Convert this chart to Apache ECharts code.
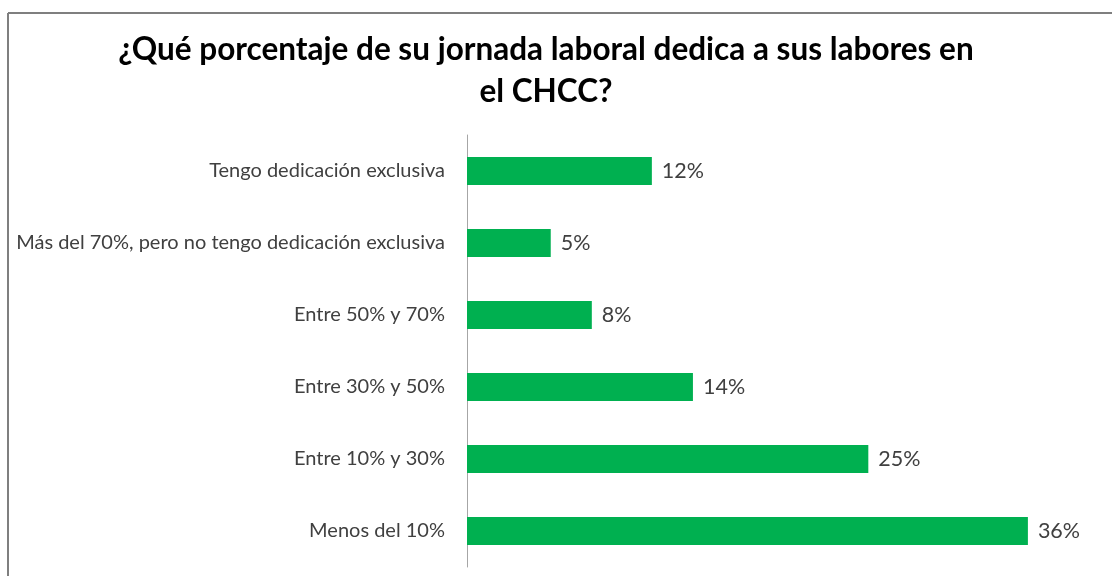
<!DOCTYPE html>
<html>
<head>
<meta charset="utf-8">
<script src="https://cdn.jsdelivr.net/npm/echarts@6/dist/echarts.min.js"></script>
<style>
html,body{margin:0;padding:0;background:#fff;}
#c{width:1112px;height:576px;}
</style>
</head>
<body>
<div id="c"></div>
<script>
const categories = [
  "Tengo dedicación exclusiva",
  "Más del 70%, pero no tengo dedicación exclusiva",
  "Entre 50% y 70%",
  "Entre 30% y 50%",
  "Entre 10% y 30%",
  "Menos del 10%"
];
const values = [11.7, 5.3, 7.9, 14.3, 25.4, 35.5];
const titleText = "¿Qué porcentaje de su jornada laboral dedica a sus labores en\nel CHCC?";

const chart = echarts.init(document.getElementById('c'));
chart.setOption({
  backgroundColor: '#fff',
  animation: false,
  title: {
    text: titleText,
    left: 541,
    textAlign: 'center',
    top: 24,
    textStyle: {
      fontFamily: 'Lato',
      fontWeight: 'bold',
      fontSize: 31.5,
      lineHeight: 42,
      color: '#000'
    }
  },
  graphic: [
    {type: 'line', shape: {x1: 8, y1: 13, x2: 1112, y2: 13}, style: {stroke: '#7f7f7f', lineWidth: 2}},
    {type: 'line', shape: {x1: 8, y1: 13, x2: 8, y2: 576}, style: {stroke: '#7f7f7f', lineWidth: 2}}
  ],
  grid: {left: 467, top: 135, width: 632, height: 432, containLabel: false},
  xAxis: {
    type: 'value', min: 0, max: 40,
    show: false
  },
  yAxis: {
    type: 'category',
    data: categories,
    inverse: true,
    axisLine: {show: true, lineStyle: {color: '#a6a6a6', width: 1}},
    axisTick: {show: false},
    axisLabel: {
      margin: 22,
      fontFamily: 'Lato',
      fontSize: 20,
      color: '#404040'
    }
  },
  series: [{
    type: 'bar',
    data: values,
    barWidth: 28,
    itemStyle: {color: '#00b050'},
    label: {
      show: true,
      position: 'right',
      distance: 10,
      fontFamily: 'Lato',
      fontSize: 21.5,
      color: '#404040',
      formatter: p => Math.round(p.value) + '%'
    }
  }]
});
</script>
</body>
</html>
